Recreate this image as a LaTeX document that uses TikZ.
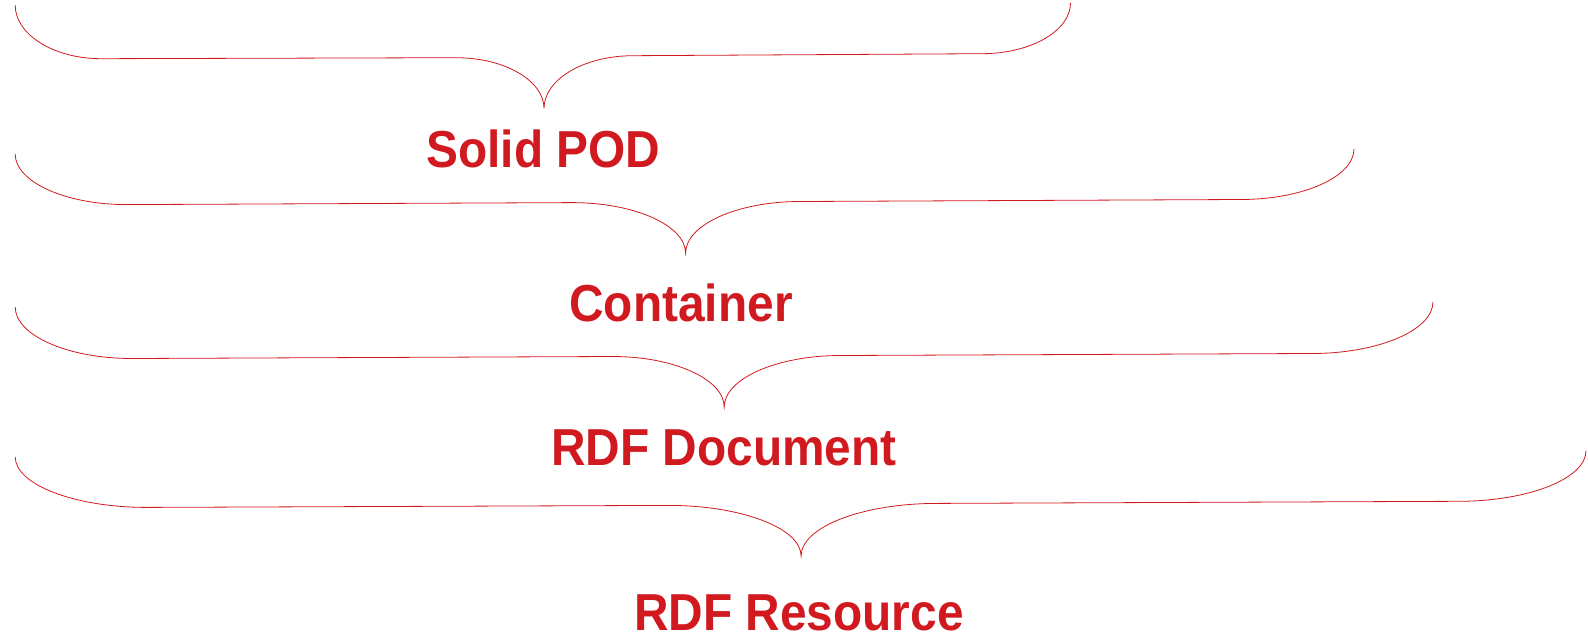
\documentclass[tikz,border=0pt]{standalone}
\usepackage{fontspec}
\setmainfont{Liberation Sans}
\usetikzlibrary{calc}
\definecolor{podred}{RGB}{208,26,32}
\begin{document}
\begin{tikzpicture}[x=1pt,y=-1pt,
  bracepath/.style={draw=podred,line width=0.8pt},
  lbl/.style={anchor=base,text=podred,font=\fontsize{52}{60}\selectfont\bfseries,inner sep=0pt}]
\useasboundingbox (0,0) rectangle (1588,632);
% brace 1
\coordinate (a1) at (15.2,5.1);
\coordinate (b1) at (101,58.7);
\coordinate (c1) at (456,57.7);
\coordinate (t1) at (544,108.4);
\coordinate (d1) at (633,55.7);
\coordinate (e1) at (982,53.7);
\coordinate (f1) at (1070.5,3);
% brace 2
\coordinate (a2) at (15.2,154);
\coordinate (b2) at (126.6,204.6);
\coordinate (c2) at (572,202.6);
\coordinate (t2) at (685.6,253.2);
\coordinate (d2) at (800,201.5);
\coordinate (e2) at (1240.7,199.5);
\coordinate (f2) at (1354,148.9);
% brace 3
\coordinate (a3) at (15.2,306.9);
\coordinate (b3) at (131.7,358.5);
\coordinate (c3) at (612.7,356.5);
\coordinate (t3) at (724.2,407.1);
\coordinate (d3) at (840.6,355.5);
\coordinate (e3) at (1311.6,353.5);
\coordinate (f3) at (1433,301.8);
% brace 4
\coordinate (a4) at (15.2,456.8);
\coordinate (b4) at (146.9,507.4);
\coordinate (c4) at (668.4,505.4);
\coordinate (t4) at (801.1,556);
\coordinate (d4) at (936.8,503.4);
\coordinate (e4) at (1458.4,501.3);
\coordinate (f4) at (1586,450.7);
\foreach \i in {1,2,3,4}{
  \draw[bracepath]
    (a\i) .. controls ($(a\i)!0.55!(a\i|-b\i)$) and ($(b\i)!0.55!(a\i|-b\i)$) .. (b\i)
    -- (c\i)
    .. controls ($(c\i)!0.55!(t\i|-c\i)$) and ($(t\i)!0.55!(t\i|-c\i)$) .. (t\i)
    .. controls ($(t\i)!0.55!(t\i|-d\i)$) and ($(d\i)!0.55!(t\i|-d\i)$) .. (d\i)
    -- (e\i)
    .. controls ($(e\i)!0.55!(f\i|-e\i)$) and ($(f\i)!0.55!(f\i|-e\i)$) .. (f\i);
}
\node[lbl] (l1) at (543.5,167) {\scalebox{0.92}[1]{Solid POD}};
\node[lbl] (l2) at (681,321) {\scalebox{0.92}[1]{Container}};
\node[lbl] (l3) at (724,465) {\scalebox{0.92}[1]{RDF Document}};
\node[lbl] (l4) at (799,630) {\scalebox{0.92}[1]{RDF Resource}};
\end{tikzpicture}
\end{document}
